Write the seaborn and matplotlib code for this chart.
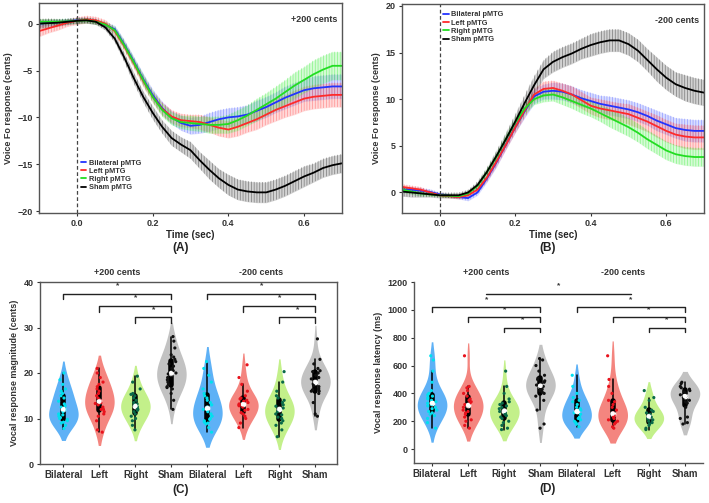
import numpy as np
import pandas as pd
import matplotlib
matplotlib.use("Agg")
import matplotlib.pyplot as plt
import seaborn as sns

# ---- time-course data (panels A, B) ----
TIME = [-0.1, -0.075, -0.05, -0.025, 0.0, 0.025, 0.05, 0.075, 0.1, 0.125, 0.15,
        0.175, 0.2, 0.225, 0.25, 0.275, 0.3, 0.325, 0.35, 0.375, 0.4, 0.425,
        0.45, 0.475, 0.5, 0.525, 0.55, 0.575, 0.6, 0.625, 0.65, 0.675, 0.7]

GROUPS = ["Bilateral pMTG", "Left pMTG", "Right pMTG", "Sham pMTG"]

A_BIL = [0.0, 0.1, 0.15, 0.25, 0.35, 0.4, 0.25, -0.1, -0.6, -2.2, -4.0, -5.9, -7.6, -9.0, -10.0, -10.6,
         -10.9, -10.8, -10.5, -10.2, -10.0, -9.9, -9.7, -9.3, -8.9, -8.4, -7.9, -7.5, -7.1, -6.9, -6.8, -6.7, -6.7]
A_LEFT = [-0.8, -0.5, -0.2, 0.1, 0.3, 0.45, 0.35, 0.0, -0.8, -2.4, -4.2, -6.1, -7.8, -9.1, -9.9, -10.3,
          -10.4, -10.5, -10.8, -11.1, -11.3, -11.0, -10.6, -10.2, -9.7, -9.2, -8.8, -8.4, -8.0, -7.8, -7.7, -7.6, -7.6]
A_RIGHT = [0.2, 0.2, 0.2, 0.25, 0.3, 0.35, 0.2, -0.1, -0.7, -2.3, -4.1, -6.0, -7.8, -9.2, -10.1, -10.5,
           -10.6, -10.7, -10.8, -10.8, -10.7, -10.3, -9.8, -9.2, -8.6, -8.0, -7.3, -6.6, -6.0, -5.4, -4.9, -4.5, -4.5]
A_SHAM = [0.0, 0.05, 0.1, 0.2, 0.3, 0.35, 0.2, -0.4, -1.6, -3.6, -5.8, -7.8, -9.5, -11.0, -12.2, -12.9,
          -13.5, -14.6, -15.6, -16.5, -17.2, -17.7, -17.9, -18.0, -18.0, -17.7, -17.3, -16.8, -16.3, -15.9, -15.4, -15.1, -14.9]

A_BIL_SEM = [0.3, 0.3, 0.3, 0.3, 0.3, 0.3, 0.3, 0.3, 0.4, 0.5, 0.5, 0.6, 0.6, 0.7, 0.7, 0.8, 0.9,
             0.9, 1.0, 1.0, 1.0, 1.0, 1.0, 1.1, 1.1, 1.1, 1.2, 1.2, 1.2, 1.3, 1.3, 1.3, 1.3]
A_LEFT_SEM = [0.6, 0.5, 0.5, 0.4, 0.4, 0.4, 0.4, 0.4, 0.4, 0.5, 0.5, 0.6, 0.6, 0.7, 0.7, 0.7, 0.7,
              0.8, 0.8, 0.9, 0.9, 1.0, 1.0, 1.1, 1.1, 1.2, 1.2, 1.3, 1.3, 1.3, 1.3, 1.3, 1.3]
A_RIGHT_SEM = [0.3, 0.3, 0.3, 0.3, 0.3, 0.3, 0.3, 0.3, 0.4, 0.5, 0.5, 0.6, 0.6, 0.7, 0.7, 0.7, 0.8,
               0.8, 0.9, 0.9, 1.0, 1.1, 1.1, 1.2, 1.2, 1.3, 1.3, 1.4, 1.4, 1.5, 1.5, 1.5, 1.5]
A_SHAM_SEM = [0.5, 0.5, 0.4, 0.3, 0.3, 0.3, 0.3, 0.3, 0.4, 0.5, 0.6, 0.6, 0.7, 0.7, 0.8, 0.8, 0.9,
              0.9, 1.0, 1.0, 1.1, 1.1, 1.1, 1.1, 1.1, 1.1, 1.1, 1.1, 1.1, 1.0, 1.0, 1.0, 1.0]

B_BIL = [0.3, 0.3, 0.2, 0.05, -0.2, -0.35, -0.5, -0.6, 0.0, 1.5, 3.2, 5.1, 7.0, 8.7, 10.3, 10.8,
         10.9, 10.8, 10.5, 10.1, 9.8, 9.5, 9.3, 9.1, 8.9, 8.6, 8.2, 7.7, 7.3, 6.9, 6.7, 6.6, 6.6]
B_LEFT = [0.6, 0.45, 0.3, 0.0, -0.3, -0.4, -0.5, -0.3, 0.3, 1.6, 3.3, 5.1, 7.0, 8.8, 10.5, 11.1,
          11.2, 10.9, 10.5, 9.9, 9.3, 9.0, 8.8, 8.6, 8.4, 8.0, 7.6, 7.1, 6.6, 6.2, 6.0, 5.9, 5.9]
B_RIGHT = [0.3, 0.1, -0.1, -0.2, -0.3, -0.35, -0.4, -0.1, 0.7, 2.2, 3.8, 5.7, 7.5, 9.0, 10.0, 10.4,
           10.5, 10.2, 9.8, 9.4, 9.0, 8.5, 8.0, 7.5, 7.0, 6.4, 5.7, 5.1, 4.5, 4.1, 3.9, 3.8, 3.8]
B_SHAM = [0.1, 0.0, -0.1, -0.2, -0.3, -0.3, -0.3, 0.0, 0.8, 2.2, 3.9, 5.7, 7.6, 9.6, 11.5, 13.2,
          14.0, 14.5, 14.9, 15.4, 15.8, 16.1, 16.3, 16.3, 15.9, 15.2, 14.2, 13.2, 12.3, 11.6, 11.2, 10.9, 10.7]

B_BIL_SEM = [0.3, 0.3, 0.3, 0.3, 0.2, 0.2, 0.2, 0.3, 0.3, 0.4, 0.5, 0.5, 0.6, 0.7, 0.8, 0.8, 0.9,
             0.9, 0.9, 0.9, 0.9, 0.9, 1.0, 1.0, 1.0, 1.0, 1.0, 1.1, 1.1, 1.1, 1.2, 1.2, 1.2]
B_LEFT_SEM = [0.3, 0.3, 0.3, 0.2, 0.2, 0.2, 0.2, 0.3, 0.3, 0.4, 0.5, 0.5, 0.6, 0.7, 0.7, 0.8, 0.8,
              0.8, 0.9, 0.9, 0.9, 1.0, 1.0, 1.0, 1.1, 1.1, 1.1, 1.2, 1.2, 1.2, 1.3, 1.3, 1.3]
B_RIGHT_SEM = [0.3, 0.3, 0.3, 0.2, 0.2, 0.2, 0.2, 0.3, 0.3, 0.4, 0.5, 0.5, 0.6, 0.6, 0.6, 0.7, 0.7,
               0.8, 0.8, 0.9, 0.9, 0.9, 1.0, 1.0, 1.0, 1.0, 1.0, 1.0, 1.0, 1.0, 1.0, 1.0, 1.0]
B_SHAM_SEM = [0.5, 0.5, 0.4, 0.3, 0.3, 0.3, 0.3, 0.3, 0.4, 0.5, 0.6, 0.7, 0.8, 0.9, 1.0, 1.0, 1.1,
              1.1, 1.1, 1.1, 1.2, 1.2, 1.2, 1.2, 1.2, 1.2, 1.2, 1.3, 1.3, 1.3, 1.4, 1.4, 1.4]

# ---- per-subject data (panels C, D) ----
CATS = ["Bilateral", "Left", "Right", "Sham"]

C_POS = {
    "Bilateral": [7.8, 8.5, 9.0, 9.2, 9.5, 9.8, 10.0, 10.2, 10.5, 10.8, 11.0, 11.5, 12.0, 12.5, 12.8,
                  13.2, 13.8, 14.5, 15.0, 15.5, 16.0, 16.5, 17.5, 18.5, 20.0],
    "Left": [7.0, 7.5, 9.5, 10.5, 11.0, 11.5, 12.0, 12.0, 12.5, 13.0, 13.3, 13.5, 14.0, 14.5, 15.0,
             15.5, 16.0, 16.5, 17.0, 17.5, 18.0, 19.0, 20.0, 21.0],
    "Right": [7.5, 8.5, 9.5, 10.0, 10.5, 11.0, 11.5, 11.8, 12.0, 12.3, 12.6, 12.9, 13.2, 13.5, 14.0,
              14.5, 15.0, 15.3, 15.5, 16.5, 18.0, 19.3],
    "Sham": [12.0, 14.0, 15.5, 16.5, 16.8, 17.0, 17.5, 18.0, 18.5, 19.0, 19.5, 19.8, 20.0, 20.5, 21.0,
             21.5, 22.0, 22.5, 23.0, 23.5, 24.0, 25.5, 27.0, 28.0],
}
C_NEG = {
    "Bilateral": [7.0, 8.0, 8.8, 9.0, 9.2, 9.5, 9.8, 10.0, 10.5, 11.0, 11.5, 12.0, 12.5, 13.0, 13.5,
                  14.0, 14.5, 15.0, 15.5, 16.5, 18.0, 19.5, 21.0, 22.5],
    "Left": [8.0, 9.0, 10.0, 10.5, 11.0, 11.3, 11.8, 12.0, 12.5, 12.8, 13.0, 13.2, 13.5, 13.8, 14.0,
             14.3, 14.5, 15.0, 16.0, 17.5, 19.0, 21.8],
    "Right": [6.0, 7.5, 8.5, 9.0, 9.5, 10.0, 10.3, 10.8, 11.0, 11.5, 12.0, 12.3, 12.7, 13.0, 13.5,
              14.0, 14.5, 15.0, 16.0, 18.0, 20.3],
    "Sham": [10.5, 11.0, 13.5, 15.5, 16.0, 16.0, 16.3, 16.5, 17.0, 17.3, 17.6, 18.0, 18.3, 18.7, 19.0,
             19.5, 20.0, 20.3, 20.5, 21.0, 22.0, 23.0, 27.5],
}
D_POS = {
    "Bilateral": [150, 190, 220, 240, 250, 260, 270, 280, 290, 300, 310, 320, 330, 340, 350, 360, 370,
                  380, 390, 400, 420, 480, 560, 640, 670],
    "Left": [150, 170, 200, 210, 230, 250, 260, 270, 280, 300, 310, 320, 330, 340, 350, 360, 380, 400,
             420, 440, 450, 670],
    "Right": [140, 150, 170, 190, 200, 220, 230, 240, 250, 260, 270, 280, 290, 300, 310, 320, 330, 340,
              360, 400, 450, 560],
    "Sham": [150, 180, 280, 350, 380, 400, 410, 420, 430, 440, 450, 460, 470, 480, 490, 500, 510, 530,
             560, 600, 640, 650],
}
D_NEG = {
    "Bilateral": [160, 180, 180, 190, 200, 210, 220, 230, 250, 260, 280, 290, 300, 320, 340, 350, 370,
                  400, 450, 530],
    "Left": [150, 160, 180, 190, 200, 210, 220, 230, 240, 250, 260, 280, 300, 320, 340, 350, 400, 450,
             500, 670],
    "Right": [140, 150, 170, 180, 190, 200, 210, 220, 230, 240, 250, 260, 270, 280, 300, 350, 370, 420],
    "Sham": [180, 190, 220, 230, 300, 330, 340, 350, 370, 380, 390, 400, 410, 420, 430, 440, 450, 470, 480],
}

# significance brackets: (from, to, height)
C_BRACKETS = [(0, 3, 37.4), (1, 3, 34.7), (2, 3, 32.2), (4, 7, 37.4), (5, 7, 34.7), (6, 7, 32.2)]
D_BRACKETS = [(0, 3, 1020), (1, 3, 946), (2, 3, 873), (4, 7, 1020), (5, 7, 946), (6, 7, 873)]
D_LONG = (1.5, 5.5, 1116)

LINE_COLORS = ["#2233ff", "#ff2a2a", "#22dd22", "#000000"]
BAND_COLORS = ["#5566ff", "#ff5555", "#44ee44", "#333333"]
FILL_COLORS = ["#5eb1f6", "#f4857f", "#c3f08a", "#c2c2c2"]
DOT_COLORS = ["#00e1ef", "#e8121c", "#0a6a4a", "#111111"]

sns.set_style("ticks")
plt.rcParams["font.family"] = ["Liberation Sans", "DejaVu Sans"]
plt.rcParams["font.weight"] = "bold"
plt.rcParams["axes.labelweight"] = "bold"
plt.rcParams["hatch.linewidth"] = 0.5
np.random.seed(3)

W, H = 709, 503
fig = plt.figure(figsize=(W / 100, H / 100), dpi=100)


def box(l, t, r, b):
    return [l / W, 1 - b / H, (r - l) / W, (b - t) / H]


def style_axes(ax, full=True):
    for side, sp in ax.spines.items():
        sp.set_color("#555555")
        sp.set_linewidth(1.0)
        if not full and side in ("top", "right"):
            sp.set_visible(False)
    ax.tick_params(colors="#333333", labelsize=6.5, length=2.5, width=0.8, pad=2)


def plot_trace(ax, means, sems, legend_anchor, tag):
    for name, m, s, lc, bc in zip(GROUPS, means, sems, LINE_COLORS, BAND_COLORS):
        m = np.array(m)
        s = np.array(s)
        ax.fill_between(TIME, m - s, m + s, color=bc, alpha=0.22, lw=0)
        ax.fill_between(TIME, m - s, m + s, facecolor="none", edgecolor=bc,
                        hatch="||||||", lw=0, alpha=0.55)
        sns.lineplot(x=TIME, y=m, color=lc, lw=1.3, ax=ax, label=name)
    ax.axvline(0, color="#444444", ls=(0, (3, 2)), lw=0.9)
    ax.set_xlim(-0.1, 0.7)
    ax.set_xticks([0.0, 0.2, 0.4, 0.6])
    ax.set_xticklabels(["0.0", "0.2", "0.4", "0.6"])
    ax.set_xlabel("Time (sec)", fontsize=7, labelpad=1)
    ax.set_ylabel("Voice Fo response (cents)", fontsize=6.5, color="#333333", labelpad=3)
    leg = ax.legend(loc="upper left", bbox_to_anchor=legend_anchor, frameon=False, fontsize=5.3,
                    handlelength=0.7, handletextpad=0.4, labelspacing=0.15, borderpad=0.2)
    for txt in leg.get_texts():
        txt.set_color("#333333")
    ax.text(0.985, 0.92, tag, transform=ax.transAxes, ha="right", va="center", fontsize=6.5,
            color="#333333")
    style_axes(ax)


def plot_violins(ax, pos, neg, brackets, star_off, drop):
    keys, vals = [], []
    for side, data in (("+", pos), ("-", neg)):
        for c in CATS:
            keys.append(c + side)
            vals.append(data[c])
    df = pd.concat([pd.DataFrame({"group": k, "val": v}) for k, v in zip(keys, vals)],
                   ignore_index=True)
    sns.violinplot(data=df, x="group", y="val", hue="group", order=keys, hue_order=keys,
                   palette=FILL_COLORS * 2, legend=False, inner="box", linewidth=0,
                   linecolor="black", inner_kws=dict(box_width=4.0, whis_width=1.1, marker="o"),
                   density_norm="width", width=0.82, bw_adjust=1.25, cut=1.2, saturation=1, ax=ax)
    sns.stripplot(data=df, x="group", y="val", hue="group", order=keys, hue_order=keys,
                  palette=DOT_COLORS * 2, legend=False, size=2.3, jitter=0.14, ax=ax)
    for i, v in enumerate(vals):
        ax.scatter(i, np.median(v), s=11, color="white", edgecolor="none", zorder=6)
    for a, b, h in brackets:
        ax.plot([a, a, b, b], [h - drop, h, h, h - drop], color="#222222", lw=1.0, zorder=5)
        ax.text((a + b) / 2, h + star_off, "*", ha="center", va="center", fontsize=6,
                color="#333333")
    ax.set_xticks(range(8))
    ax.set_xticklabels(CATS * 2, fontsize=7)
    ax.set_xlabel("")
    style_axes(ax, full=True)
    ax.tick_params(axis="x", labelsize=7)


# ---- panel A ----
axA = fig.add_axes(box(39, 3, 342, 213))
plot_trace(axA, [A_BIL, A_LEFT, A_RIGHT, A_SHAM],
           [A_BIL_SEM, A_LEFT_SEM, A_RIGHT_SEM, A_SHAM_SEM], (0.12, 0.28), "+200 cents")
axA.set_ylim(-20.2, 2.2)
axA.set_yticks([0, -5, -10, -15, -20])

# ---- panel B ----
axB = fig.add_axes(box(402, 4, 704, 213))
plot_trace(axB, [B_BIL, B_LEFT, B_RIGHT, B_SHAM],
           [B_BIL_SEM, B_LEFT_SEM, B_RIGHT_SEM, B_SHAM_SEM], (0.12, 0.99), "-200 cents")
axB.set_ylim(-2.2, 20.2)
axB.set_yticks([0, 5, 10, 15, 20])

# ---- panel C ----
axC = fig.add_axes(box(40, 282, 337, 464))
plot_violins(axC, C_POS, C_NEG, C_BRACKETS, 1.8, 1.2)
axC.set_ylim(0, 40)
axC.set_xlim(-0.65, 7.6)
axC.set_yticks([0, 10, 20, 30, 40])
axC.set_ylabel("Vocal response magnitude (cents)", fontsize=6.5, color="#333333", labelpad=3)

# ---- panel D ----
axD = fig.add_axes(box(414, 282, 703, 463))
plot_violins(axD, D_POS, D_NEG, D_BRACKETS, 55, 35)
lx0, lx1, lh = D_LONG
axD.plot([lx0, lx1], [lh, lh], color="#222222", lw=1.0, zorder=5)
axD.text((lx0 + lx1) / 2, lh + 55, "*", ha="center", va="center", fontsize=6, color="#333333")
axD.set_ylim(-100, 1200)
axD.set_xlim(-0.5, 7.5)
axD.set_yticks(range(0, 1201, 200))
axD.set_ylabel("Vocal response latency (ms)", fontsize=6.5, color="#333333", labelpad=3)
for side in ("top", "right"):
    axD.spines[side].set_visible(False)

for ax, left, right in ((axC, 1.5, 5.5), (axD, 1.5, 5.3)):
    for x, lab in ((left, "+200 cents"), (right, "-200 cents")):
        ax.annotate(lab, xy=(x, 1.03), xycoords=("data", "axes fraction"), ha="center",
                    va="bottom", fontsize=6.5, color="#333333", annotation_clip=False)

for x, y, lab in ((181, 248, "(A)"), (548, 248, "(B)"), (181, 490, "(C)"), (548, 489, "(D)")):
    fig.text(x / W, 1 - y / H, lab, ha="center", va="center", fontsize=8.5, color="#222222")

fig.savefig("out.png", dpi=100)
